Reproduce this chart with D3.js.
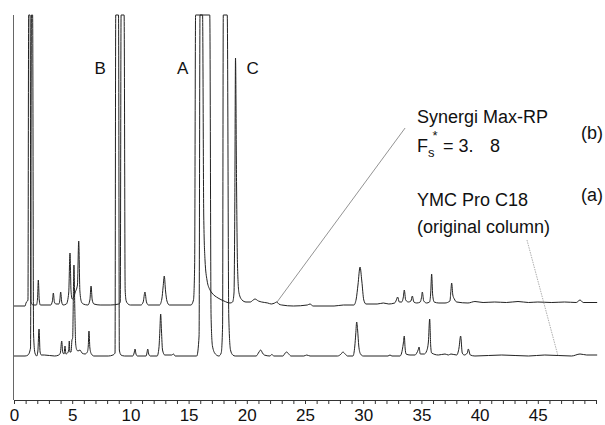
<!DOCTYPE html>
<html><head><meta charset="utf-8">
<script src="https://cdn.jsdelivr.net/npm/d3@7"></script>
<style>
html,body{margin:0;padding:0;background:#fff;}
svg{display:block;font-family:"Liberation Sans",Arial,Helvetica,sans-serif;}
</style></head>
<body>
<svg id="chart" width="605" height="425"></svg>
<script>
// ---- data (retention time [min], detector signal above trace baseline) ----
const tickLabels = [0, 5, 10, 15, 20, 25, 30, 35, 40, 45];
const minorTicks = d3.range(0, 51, 1);

// (b) Synergi Max-RP, upper trace
const traceB = [
[0,-1],[0.95,-1],[1.03,2],[1.2,5],[1.26,500],[1.38,500],[1.46,3],[1.63,0],
[1.92,0],[2.02,6],[2.09,25],[2.17,5],[2.26,0],
[3.15,0],[3.3,4],[3.38,12],[3.47,3],[3.6,1],
[3.85,1],[3.93,4],[4.01,13],[4.1,3],[4.21,0],
[4.5,1],[4.7,12],[4.81,52],[4.9,14],[5.0,6],
[5.15,8],[5.24,12],[5.45,20],[5.56,64],[5.66,14],[5.8,3],[5.95,1],
[6.35,0],[6.52,5],[6.62,19],[6.72,5],[6.87,1],
[7.4,0],[8.3,0],[9.0,1],[9.13,3],[9.2,500],[9.46,500],[9.55,15],[9.64,4],[9.8,1],[10.0,0],
[10.9,0],[11.1,3],[11.25,13],[11.38,3],[11.55,0],
[12.5,0],[12.7,6],[12.81,18],[12.91,29],[13.02,14],[13.14,4],[13.35,0],
[15.2,0],[15.42,5],[15.52,40],[15.6,500],[16.2,500],[16.3,90],[16.41,45],[16.58,25],[16.84,15],[17.01,12],
[17.53,7],[18.04,4],[18.56,2],[18.78,3],[18.9,12],[18.97,100],[19.03,247],[19.12,120],[19.2,40],[19.33,12],
[19.59,5],[19.93,3],[20.3,3],[20.55,5],[20.7,6],[21.0,4],[21.28,3],[21.8,2],[22.1,1],[22.4,2],[22.57,3],
[22.75,1],[23.0,0],[24.0,-1],[25.2,0],[25.43,1],[25.7,-1],[27.5,-1],[28.3,0],
[29.2,0],[29.4,6],[29.55,20],[29.73,38],[29.88,24],[30.05,5],[30.24,1],
[31.2,1],[31.73,2],[32.2,1],[32.7,2],[32.85,5],[32.96,8],[33.1,3],[33.3,3],[33.45,8],[33.53,15],[33.65,5],
[33.88,3],[34.1,4],[34.22,9],[34.35,3],[34.6,2],[34.9,3],[35.0,7],[35.08,13],[35.2,4],[35.45,2],
[35.7,3],[35.8,12],[35.88,31],[35.97,10],[36.1,3],[36.5,2],[37.03,2],[37.45,4],[37.52,12],[37.6,22],
[37.7,10],[37.83,6],[38.03,3],[39.0,2],[39.6,3.5],[40.3,2.5],[41.3,3],[42.3,2.5],[43.3,3.5],[44.2,2.5],
[45.0,3],[46.2,2.5],[47.3,3],[48.3,2.5],[48.63,5],[48.9,2.5],[50.1,2.5]
];

// (a) YMC Pro C18 (original column), lower trace
const traceA = [
[0,0],[0.95,0],[1.2,1],[1.42,8],[1.5,500],[1.6,500],[1.68,22],[1.8,3],[1.95,0],
[2.05,5],[2.15,27],[2.24,4],[2.35,1],[2.6,1],[3.5,0],[3.85,1],
[3.98,3],[4.1,15],[4.18,4],[4.3,2],[4.38,10],[4.46,2],[4.6,3],[4.7,6],[4.75,15],[4.8,4],[4.9,4],
[4.98,16],[5.04,18],[5.1,60],[5.15,91],[5.22,50],[5.3,12],[5.4,6],[5.5,5],[5.67,6],[5.84,3],
[6.1,2],[6.3,4],[6.38,10],[6.44,25],[6.52,8],[6.65,2],[6.87,0],
[8.1,0],[8.5,1],[8.68,3],[8.74,500],[8.98,500],[9.05,6],[9.19,1],[9.5,0],
[10.2,0],[10.32,3],[10.4,7],[10.48,2],[10.6,0],[11.35,0],[11.42,3],[11.49,7],[11.57,2],[11.7,0],
[12.3,0],[12.45,8],[12.53,25],[12.6,42],[12.67,25],[12.76,6],[12.95,1],[13.55,1],[13.7,2],[13.85,0],
[15.7,0],[15.9,20],[15.98,500],[16.82,500],[16.93,40],[17.05,10],[17.3,2],[17.6,0],[17.8,3],[17.92,30],
[17.98,500],[18.32,500],[18.45,40],[18.6,6],[18.8,1],[19.0,0],
[20.8,0],[21.05,4],[21.19,6],[21.35,3],[21.5,1],[21.99,0],[22.14,1.5],[22.34,0],[23.1,0],[23.3,3],
[23.43,4],[23.6,2],[23.8,0],[24.9,0],[25.15,1],[25.43,0],[27.8,0],[28.1,2],[28.26,4],[28.45,2],[28.65,0],
[29.12,0],[29.28,10],[29.36,22],[29.44,34],[29.52,26],[29.62,10],[29.77,2],[30.0,0],
[32.13,0],[32.3,1],[32.47,0],[33.16,0],[33.3,3],[33.44,12],[33.53,20],[33.6,8],[33.68,2],[34.02,1],
[34.45,1],[34.6,3],[34.72,6],[34.8,9],[34.9,2],[35.25,2],[35.45,5],[35.6,14],[35.71,37],[35.8,10],
[35.88,3],[36.45,1],[37.03,2],[37.31,1],[37.54,2],[38.03,1],[38.23,8],[38.37,20],[38.51,3],[38.68,1],
[38.95,3],[39.03,7],[39.2,1],[39.6,0],[41.9,1],[44.2,0],[45.6,1],[47.9,0],[48.63,2],[49.2,1],[50.1,1]
];

const peakNames = ["B", "A", "C"];
const peakLabelTimes = [7.4, 14.5, 20.5];

// ---- drawing ----
const svg = d3.select("#chart");
const x = d3.scaleLinear().domain([0, 50]).range([14, 596]);
const y = d3.scaleLinear().domain([0, 385]).range([400, 15]).clamp(true);
const offsetA = 44, offsetB = 95;

// left frame line
svg.append("line")
  .attr("x1", 13.5).attr("x2", 13.5)
  .attr("y1", y(385)).attr("y2", y(0))
  .attr("stroke", "#666").attr("stroke-width", 1);

// x axis
const axis = d3.axisBottom(x)
  .tickValues(minorTicks)
  .tickSize(4).tickSizeOuter(0).tickPadding(5)
  .tickFormat(d => tickLabels.includes(d) ? String(d) : "");
const gx = svg.append("g").attr("transform", `translate(0,${y(0)})`).call(axis);
gx.select(".domain").attr("stroke", "#333");
gx.selectAll(".tick line").attr("stroke", "#333");
gx.selectAll(".tick text").attr("font-size", 17).attr("fill", "#111")
  .attr("font-family", '"Liberation Sans",Arial,sans-serif');

// traces
const lineFor = off => d3.line()
  .x(d => x(d[0]))
  .y(d => y(d[1] + off))
  .curve(d3.curveMonotoneX);

svg.append("path").datum(traceA)
  .attr("d", lineFor(offsetA))
  .attr("fill", "none").attr("stroke", "#222").attr("stroke-width", 1)
  .attr("stroke-linejoin", "round");
svg.append("path").datum(traceB)
  .attr("d", lineFor(offsetB))
  .attr("fill", "none").attr("stroke", "#222").attr("stroke-width", 1)
  .attr("stroke-linejoin", "round");

// peak labels
svg.selectAll("text.peak").data(peakNames).enter().append("text")
  .attr("class", "peak")
  .attr("x", (d, i) => x(peakLabelTimes[i]))
  .attr("y", y(326))
  .attr("text-anchor", "middle")
  .attr("font-size", 17).attr("fill", "#111")
  .text(d => d);

// leader lines
svg.append("line")
  .attr("x1", x(33.6)).attr("y1", y(272))
  .attr("x2", x(22.6)).attr("y2", y(98))
  .attr("stroke", "#777").attr("stroke-width", 0.8);
svg.append("line")
  .attr("x1", x(44.07)).attr("y1", y(160))
  .attr("x2", x(46.74)).attr("y2", y(44))
  .attr("stroke", "#999").attr("stroke-width", 0.8)
  .attr("stroke-dasharray", "1.5,1");

// annotation text
const ann = svg.append("g").attr("font-size", 18).attr("fill", "#111");
ann.append("text").attr("x", 417).attr("y", 123).text("Synergi Max-RP");
const f = ann.append("text").attr("x", 417).attr("y", 152);
f.append("tspan").text("F");
f.append("tspan").attr("font-size", 13).attr("dy", 5).text("s");
f.append("tspan").attr("font-size", 13).attr("dx", -2).attr("dy", -17).text("*");
ann.append("text").attr("x", 443).attr("y", 152).text("= 3.");
ann.append("text").attr("x", 490).attr("y", 152).text("8");
ann.append("text").attr("x", 603).attr("y", 139).attr("text-anchor", "end").text("(b)");
ann.append("text").attr("x", 417).attr("y", 206).text("YMC Pro C18");
ann.append("text").attr("x", 603).attr("y", 201).attr("text-anchor", "end").text("(a)");
ann.append("text").attr("x", 417).attr("y", 233).text("(original column)");
</script>
</body></html>
